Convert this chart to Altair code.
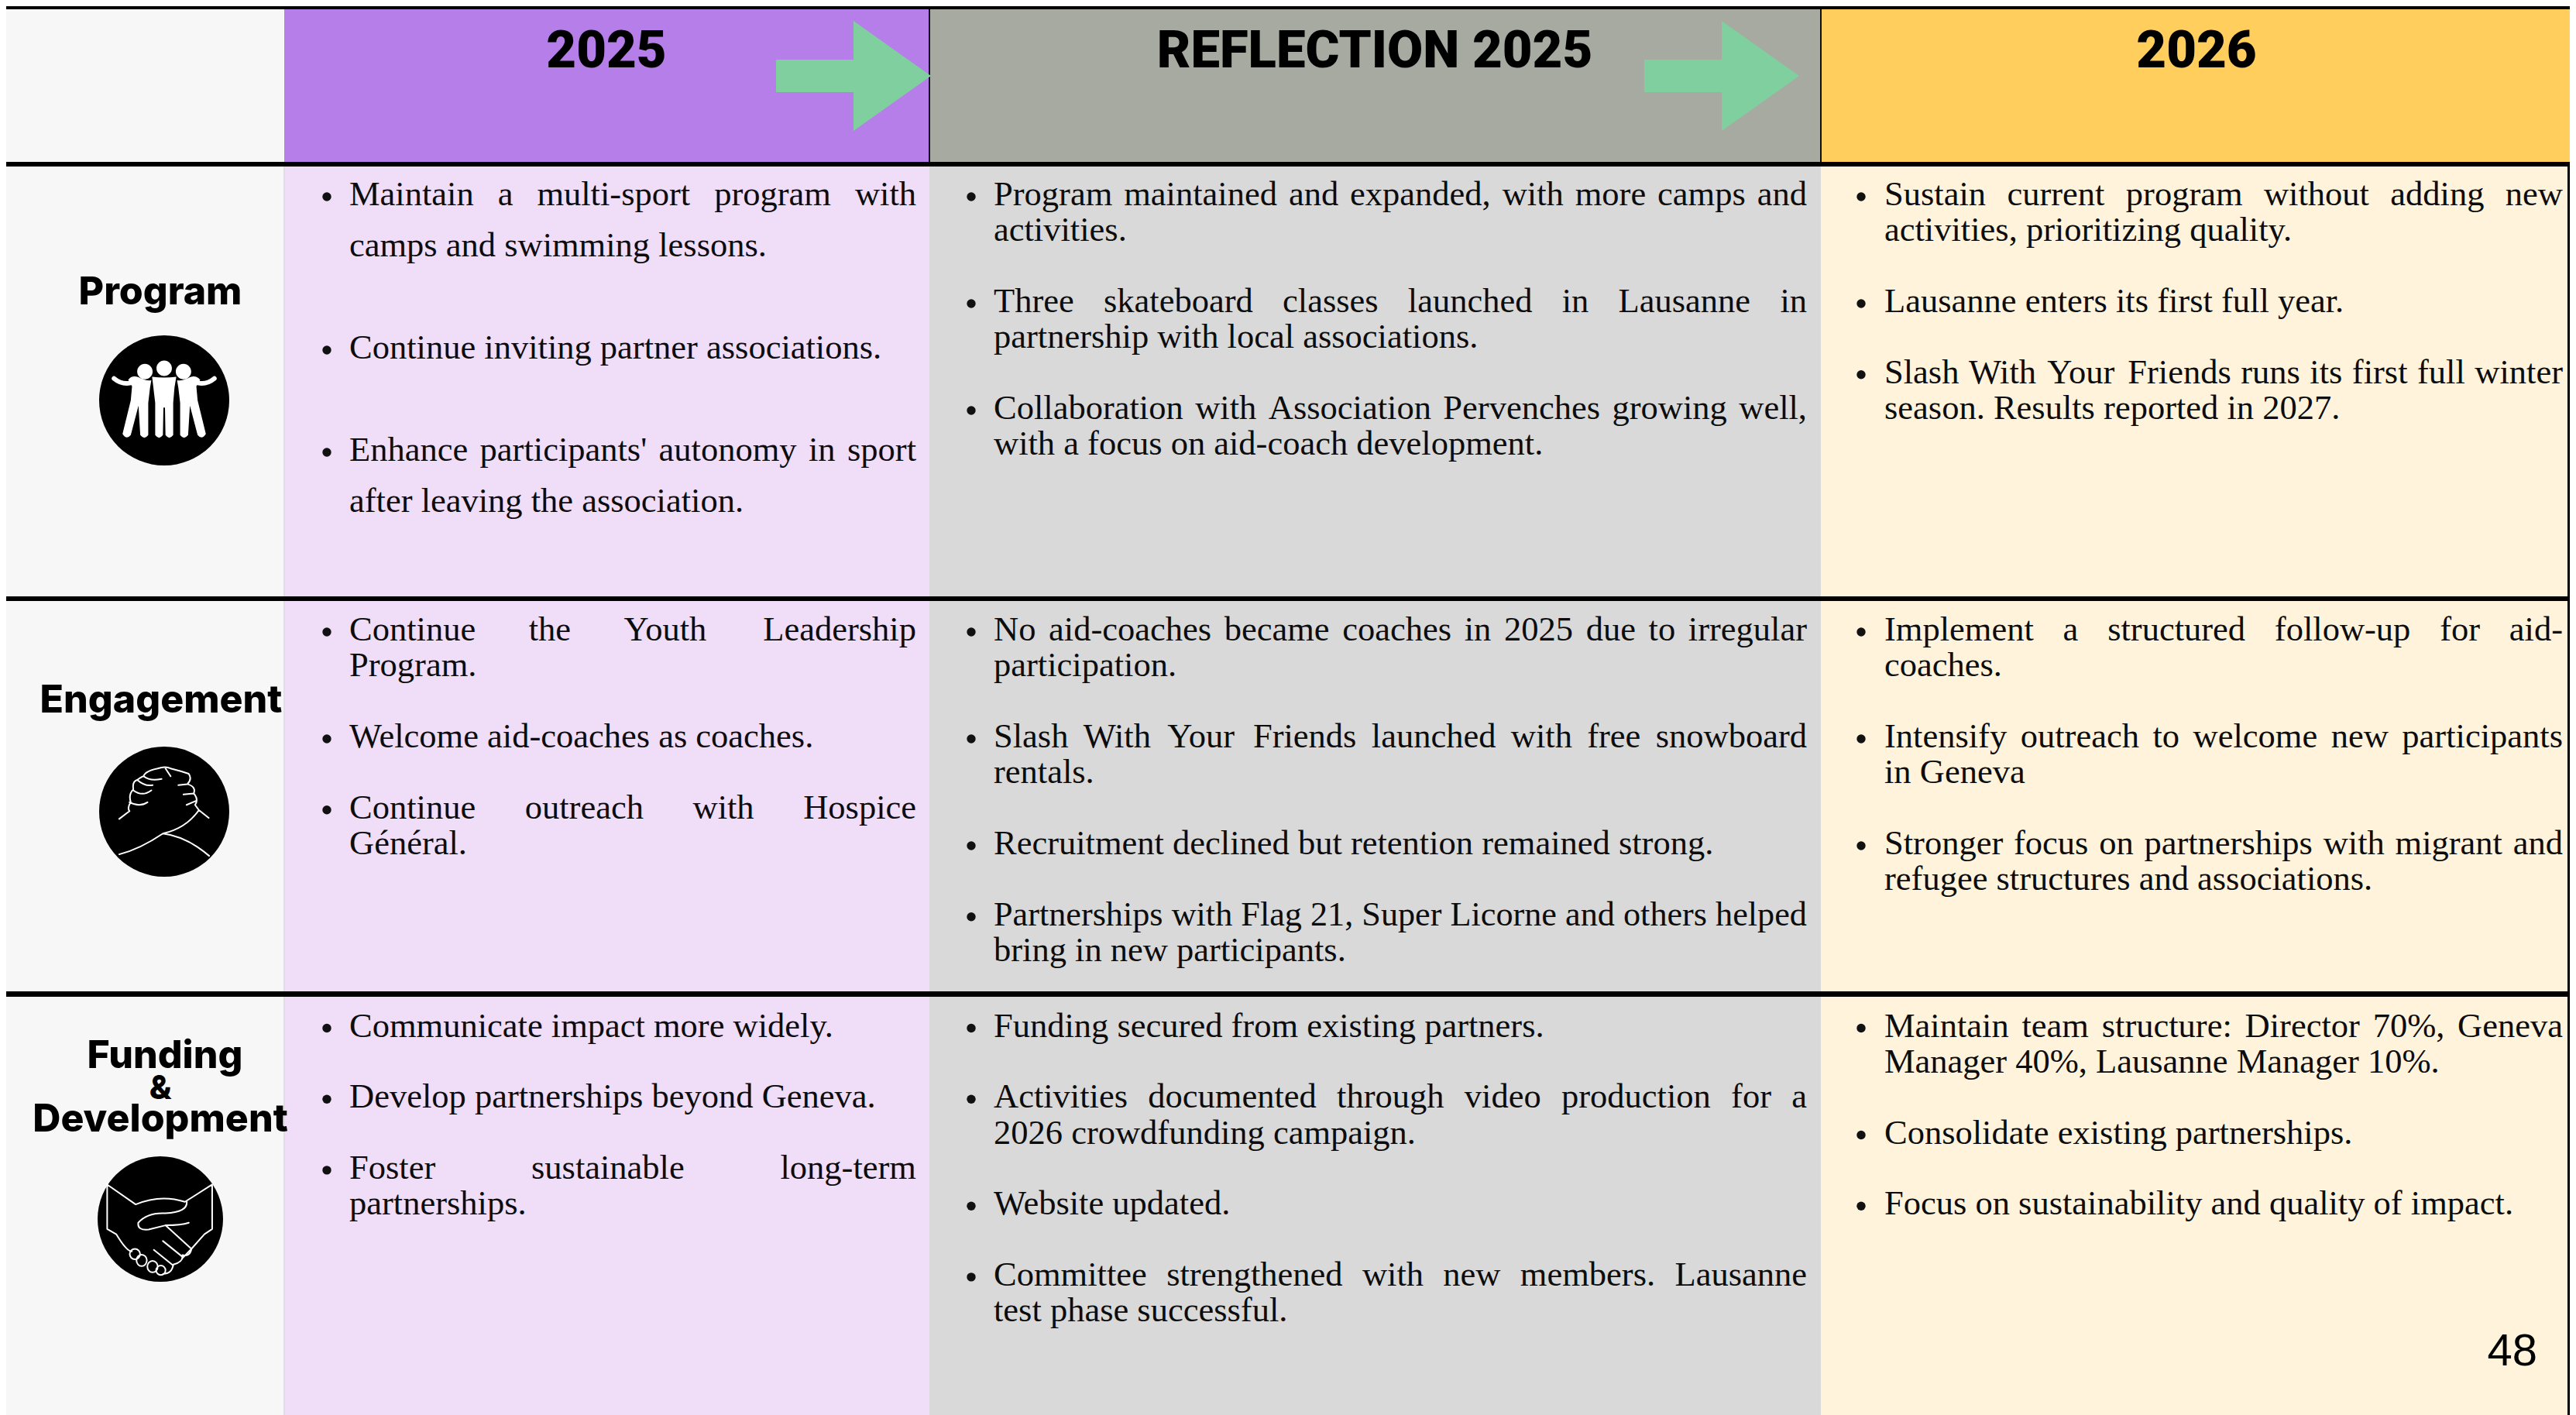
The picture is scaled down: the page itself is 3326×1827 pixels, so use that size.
import re
import altair as alt
import pandas as pd

PAGE_W, PAGE_H, MARGIN = 3326, 1827, 8
VIEW_R = PAGE_W - MARGIN   # the page margin leaves the last 8px unused

# ---------- table content ----------
COLUMN_HEADERS = ["2025", "REFLECTION 2025", "2026"]
ROW_LABELS = [["Program"], ["Engagement"], ["Funding", "&", "Development"]]
PAGE_NUMBER = "48"

COL_2025 = [
    [["Maintain a multi-sport program with", "camps and swimming lessons."],
     ["Continue inviting partner associations."],
     ["Enhance participants' autonomy in sport", "after leaving the association."]],
    [["Continue the Youth Leadership", "Program."],
     ["Welcome aid-coaches as coaches."],
     ["Continue outreach with Hospice", "Général."]],
    [["Communicate impact more widely."],
     ["Develop partnerships beyond Geneva."],
     ["Foster sustainable long-term", "partnerships."]],
]
COL_REFLECTION = [
    [["Program maintained and expanded, with more camps and", "activities."],
     ["Three skateboard classes launched in Lausanne in", "partnership with local associations."],
     ["Collaboration with Association Pervenches growing well,", "with a focus on aid-coach development."]],
    [["No aid-coaches became coaches in 2025 due to irregular", "participation."],
     ["Slash With Your Friends launched with free snowboard", "rentals."],
     ["Recruitment declined but retention remained strong."],
     ["Partnerships with Flag 21, Super Licorne and others helped", "bring in new participants."]],
    [["Funding secured from existing partners."],
     ["Activities documented through video production for a", "2026 crowdfunding campaign."],
     ["Website updated."],
     ["Committee strengthened with new members. Lausanne", "test phase successful."]],
]
COL_2026 = [
    [["Sustain current program without adding new", "activities, prioritizing quality."],
     ["Lausanne enters its first full year."],
     ["Slash With Your Friends runs its first full winter", "season. Results reported in 2027."]],
    [["Implement a structured follow-up for aid-", "coaches."],
     ["Intensify outreach to welcome new participants", "in Geneva"],
     ["Stronger focus on partnerships with migrant and", "refugee structures and associations."]],
    [["Maintain team structure: Director 70%, Geneva", "Manager 40%, Lausanne Manager 10%."],
     ["Consolidate existing partnerships."],
     ["Focus on sustainability and quality of impact."]],
]

# ---------- layout ----------
COL_EDGES = [0, 367, 1200, 2351, PAGE_W]
ROW_EDGES = [12, 215, 776, 1287, PAGE_H]
HEAD_FILL = ["#F7F7F7", "#B67EE8", "#A7AAA0", "#FFCE5C"]
BODY_FILL = ["#F7F7F7", "#F0DDF8", "#D9D9D9", "#FFF3DC"]
GREEN = "#80CF9F"
FS = 44.5
SERIF = "Liberation Serif"
TIMES = dict(a=.444, b=.5, c=.444, d=.5, e=.444, f=.333, g=.5, h=.5, i=.278, j=.278, k=.5, l=.278, m=.778,
             n=.5, o=.5, p=.5, q=.5, r=.333, s=.389, t=.278, u=.5, v=.5, w=.722, x=.5, y=.5, z=.444,
             A=.722, B=.667, C=.667, D=.722, E=.611, F=.556, G=.722, H=.722, I=.333, J=.389, K=.722, L=.611,
             M=.889, N=.722, O=.722, P=.556, Q=.722, R=.667, S=.556, T=.611, U=.722, V=.722, W=.944, X=.722,
             Y=.722, Z=.611)
TIMES.update({" ": .25, ".": .25, ",": .25, "-": .333, "'": .18, ":": .278, "%": .833, "é": .444})


def natural(s, fs=FS):
    return sum(TIMES.get(c, .5) for c in s) * fs


# ---------- build records ----------
rects = []
for i in range(4):
    rects.append(dict(x=COL_EDGES[i], x2=COL_EDGES[i + 1], y=0, y2=ROW_EDGES[1], c=HEAD_FILL[i]))
    rects.append(dict(x=COL_EDGES[i], x2=COL_EDGES[i + 1], y=ROW_EDGES[1], y2=PAGE_H, c=BODY_FILL[i]))
rects.append(dict(x=366, x2=368, y=215, y2=PAGE_H, c="#E2DCE4"))
for xe in COL_EDGES[2:4]:
    rects.append(dict(x=xe - 1, x2=xe + 1, y=12, y2=209, c="#111111"))
for yb, yt in [(12, 6), (215, 209), (776, 770), (1287, 1280)]:
    rects.append(dict(x=0, x2=PAGE_W, y=yt, y2=yb, c="#000000"))
rects.append(dict(x=VIEW_R - 3, x2=VIEW_R, y=215, y2=PAGE_H, c="#000000"))
rect_df = pd.DataFrame(rects)

words, bullets = [], []
COL_TEXT = [(COL_2025, 422, 451, 1183, 66, 132), (COL_REFLECTION, 1254, 1283, 2333, 46.3, 91.7),
            (COL_2026, 2403, 2433, 3309, 46.3, 91.7)]
ROW_FIRST_BASE = [265, 827, 1338.5]
for col, bx, x0, x1, step0, gap0 in COL_TEXT:
    for r, paras in enumerate(col):
        step, gap = (step0, gap0) if r == 0 else (46.3, 91.7)
        y = ROW_FIRST_BASE[r]
        for para in paras:
            bullets.append(dict(x=bx, y=y - 11))
            for k, line in enumerate(para):
                justified = k < len(para) - 1
                w = x1 - x0
                nat = natural(line)
                fs = min(FS, FS * w / nat)
                if justified:
                    ws = line.split(" ")
                    nw = sum(natural(t, fs) for t in ws)
                    g = (w - nw) / (len(ws) - 1)
                    xx = x0
                    for t in ws:
                        words.append(dict(x=xx, y=y, t=t, s=fs))
                        xx += natural(t, fs) + g
                else:
                    words.append(dict(x=x0, y=y, t=line, s=fs))
                y += step
            y += gap - step
words_df = pd.DataFrame(words)
bullets_df = pd.DataFrame(bullets)

head_df = pd.DataFrame(dict(x=[783, 1775, 2836], y=[87, 87, 87], t=COLUMN_HEADERS))
label_rows = [(207, 393, ROW_LABELS[0][0], 50), (208, 920, ROW_LABELS[1][0], 50), (213, 1379, ROW_LABELS[2][0], 50),
              (207, 1419, ROW_LABELS[2][1], 42), (207, 1461, ROW_LABELS[2][2], 50)]
label_df = pd.DataFrame(label_rows, columns=["x", "y", "t", "s"])
num_df = pd.DataFrame(dict(x=[3276], y=[1763], t=[PAGE_NUMBER]))
arrow_df = pd.DataFrame(dict(x=[1102, 2223], y=[98, 98]))
ARROW_PATH = "M -1,-0.21 L 0,-0.21 L 0,-0.71 L 1,0 L 0,0.71 L 0,0.21 L -1,0.21 Z"


# ---------- icon glyph helpers ----------
def norm(path, cx, cy, rx, ry):
    nums = re.findall(r"[A-Za-z]|-?\d+\.?\d*", path)
    out, isx = [], True
    for n in nums:
        if n.isalpha():
            out.append(n)
        else:
            out.append(f"{(float(n) - cx) / rx:.4f}" if isx else f"{(float(n) - cy) / ry:.4f}")
            isx = not isx
    return " ".join(out)


def ell(cx, cy, rx, ry):
    k = .5523
    return (f"M {cx - rx},{cy} C {cx - rx},{cy - k * ry} {cx - k * rx},{cy - ry} {cx},{cy - ry} "
            f"C {cx + k * rx},{cy - ry} {cx + rx},{cy - k * ry} {cx + rx},{cy} "
            f"C {cx + rx},{cy + k * ry} {cx + k * rx},{cy + ry} {cx},{cy + ry} "
            f"C {cx - k * rx},{cy + ry} {cx - rx},{cy + k * ry} {cx - rx},{cy} Z ")


people_fill = (
    ell(290, 178, 30, 30) + ell(365, 165, 30, 30) + ell(440, 178, 30, 30) +
    "M 318,198 Q 365,205 412,198 L 405,240 L 400,300 L 400,425 Q 385,445 370,425 L 368,318 L 362,318 "
    "L 360,425 Q 345,445 330,425 L 330,300 L 323,240 Z "
    "M 225,210 Q 240,190 265,200 Q 290,215 315,212 L 310,240 L 303,300 L 303,425 Q 288,445 272,425 "
    "L 265,310 L 235,425 Q 218,445 203,420 L 235,290 L 240,235 Z "
    "M 505,210 Q 490,190 465,200 Q 440,215 415,212 L 420,240 L 427,300 L 427,425 Q 442,445 458,425 "
    "L 465,310 L 495,425 Q 512,445 527,420 L 495,290 L 490,235 Z"
)
people_stroke = "M 170,205 Q 200,230 235,222 M 560,205 Q 530,230 495,222"
clasp_stroke = (
    "M 460,495 Q 540,485 630,455 Q 720,445 770,410 M 630,455 Q 720,460 810,498 M 460,427 L 500,412 "
    "M 770,410 L 808,425 "
    "M 500,412 Q 490,405 505,395 Q 495,380 515,370 Q 510,355 530,352 Q 550,345 555,345 Q 560,335 610,330 "
    "Q 640,325 660,330 Q 700,335 730,340 Q 745,350 725,360 Q 760,365 750,378 Q 770,390 755,400 L 770,410 "
    "M 500,395 Q 540,405 570,395 M 515,372 Q 550,385 585,372 M 530,352 Q 560,365 590,362 "
    "M 555,345 Q 580,355 625,350 M 640,330 L 660,345 M 690,362 L 725,360 M 710,380 L 750,378 M 722,400 L 760,392"
)
shake_stroke = (
    "M 415,1125 L 415,1212 L 450,1222 Q 490,1255 510,1255 "
    "M 415,1127 L 525,1165 Q 620,1145 715,1160 L 820,1127 L 820,1212 L 790,1222 L 740,1250 L 705,1268 "
    "M 722,1160 Q 725,1180 640,1182 Q 570,1180 535,1200 Q 530,1215 575,1213 L 640,1205 L 740,1250 "
    "Q 735,1265 705,1262 Q 710,1275 670,1280 Q 665,1298 630,1298 "
    "M 640,1205 Q 700,1205 730,1200 M 630,1235 L 705,1265 M 595,1252 L 670,1282 " +
    ell(522, 1260, 20, 10) + ell(548, 1272, 20, 11) + ell(590, 1284, 20, 11) + ell(622, 1291, 18, 9)
)

ICONS = [
    dict(x=212, y=517, r=84, fill=norm(people_fill, 365, 290, 253, 253), stroke=norm(people_stroke, 365, 290, 253, 253), w=6),
    dict(x=212, y=1048, r=84, fill=None, stroke=norm(clasp_stroke, 635, 413, 253, 125), w=2),
    dict(x=207, y=1574, r=81, fill=None, stroke=norm(shake_stroke, 620, 1193, 242, 120), w=2),
]

# ---------- chart ----------
xs = alt.Scale(domain=[MARGIN, VIEW_R], clamp=True, nice=False, zero=False)
ys = alt.Scale(domain=[MARGIN, PAGE_H], reverse=True, clamp=True, nice=False, zero=False)
X = alt.X("x:Q", scale=xs, axis=None)
Y = alt.Y("y:Q", scale=ys, axis=None)

layers = [
    alt.Chart(rect_df).mark_rect().encode(X, alt.X2("x2:Q"), Y, alt.Y2("y2:Q"), color=alt.Color("c:N", scale=None)),
    alt.Chart(arrow_df).mark_point(shape=ARROW_PATH, filled=True, color=GREEN, opacity=1, size=200 ** 2).encode(X, Y),
    alt.Chart(bullets_df).mark_circle(color="#111111", size=130, opacity=1).encode(X, Y),
    alt.Chart(words_df).mark_text(font=SERIF, align="left", baseline="alphabetic", color="#0C0C0C").encode(
        X, Y, text="t:N", size=alt.Size("s:Q", scale=None)),
    alt.Chart(head_df).mark_text(font="Roboto", fontWeight=900, fontSize=67, align="center",
                                 baseline="alphabetic", color="#000000").encode(X, Y, text="t:N"),
    alt.Chart(label_df).mark_text(font="Inter", fontWeight=800, align="center",
                                  baseline="alphabetic", color="#000000").encode(
        X, Y, text="t:N", size=alt.Size("s:Q", scale=None)),
    alt.Chart(num_df).mark_text(font="Liberation Sans", fontSize=58, align="right",
                                baseline="alphabetic", color="#000000").encode(X, Y, text="t:N"),
]
for ic in ICONS:
    d = pd.DataFrame([dict(x=ic["x"], y=ic["y"])])
    size = (2 * ic["r"]) ** 2
    layers.append(alt.Chart(d).mark_point(shape="circle", filled=True, color="#000000", opacity=1,
                                          size=size).encode(X, Y))
    if ic["fill"]:
        layers.append(alt.Chart(d).mark_point(shape=ic["fill"], filled=True, color="#FFFFFF", opacity=1,
                                              size=size).encode(X, Y))
    layers.append(alt.Chart(d).mark_point(shape=ic["stroke"], filled=False, color="#FFFFFF", opacity=1,
                                          strokeWidth=ic["w"], strokeCap="round", strokeJoin="round",
                                          size=size).encode(X, Y))

chart = alt.layer(*layers).properties(
    width=VIEW_R - MARGIN, height=PAGE_H - MARGIN, padding=0, background="#F7F7F7",
    autosize=alt.AutoSizeParams(type="none"),
).configure_view(stroke=None)

chart.save("out.html", embed_options={"renderer": "svg", "actions": False})
